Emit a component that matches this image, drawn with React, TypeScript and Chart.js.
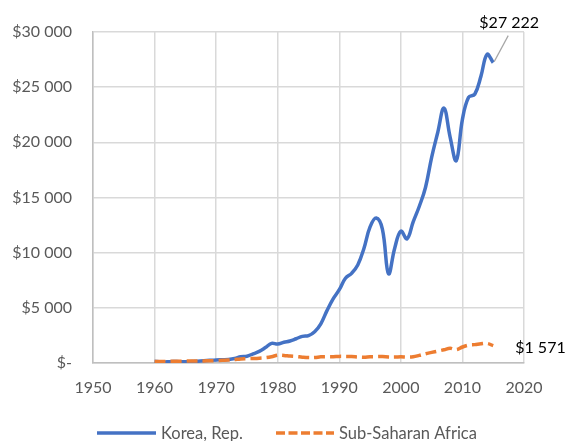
import React, { useEffect, useRef } from "react";
import { Chart, registerables } from "chart.js";

Chart.register(...registerables);

const years = [
  1960, 1961, 1962, 1963, 1964, 1965, 1966, 1967, 1968, 1969,
  1970, 1971, 1972, 1973, 1974, 1975, 1976, 1977, 1978, 1979,
  1980, 1981, 1982, 1983, 1984, 1985, 1986, 1987, 1988, 1989,
  1990, 1991, 1992, 1993, 1994, 1995, 1996, 1997, 1998, 1999,
  2000, 2001, 2002, 2003, 2004, 2005, 2006, 2007, 2008, 2009,
  2010, 2011, 2012, 2013, 2014, 2015,
];

const korea = [
  155, 93, 106, 144, 123, 108, 132, 159, 196, 240,
  279, 300, 323, 405, 563, 615, 830, 1051, 1399, 1783,
  1715, 1883, 1993, 2199, 2413, 2482, 2835, 3555, 4749, 5817,
  6642, 7677, 8126, 8884, 10385, 12333, 13137, 12131, 8085, 10409,
  11948, 11253, 12789, 14209, 15908, 18640, 20917, 23102, 20475, 18339,
  22087, 24080, 24359, 25977, 27970, 27222,
];

const ssa = [
  136, 140, 146, 155, 163, 170, 180, 186, 192, 205,
  222, 240, 262, 310, 360, 385, 410, 440, 480, 570,
  710, 690, 625, 585, 530, 495, 500, 560, 575, 575,
  600, 595, 585, 545, 515, 560, 575, 580, 545, 535,
  560, 540, 560, 690, 840, 960, 1080, 1200, 1330, 1210,
  1450, 1620, 1665, 1745, 1770, 1571,
];

const seriesNames = ["Korea, Rep.", "Sub-Saharan Africa"];
const xTicks = [1950, 1960, 1970, 1980, 1990, 2000, 2010, 2020];
const yMax = 30000;
const yStep = 5000;

const BLUE = "#4472C4";
const ORANGE = "#ED7D31";
const FONT = "Lato, 'Open Sans', sans-serif";

function fmtMoney(v: number): string {
  if (v === 0) return "$-";
  const s = Math.round(v).toString().replace(/\B(?=(\d{3})+(?!\d))/g, " ");
  return "$" + s;
}

const annotPlugin = {
  id: "annot",
  afterDraw(chart: any) {
    const ctx = chart.ctx;
    const xs = chart.scales.x;
    const ys = chart.scales.y;
    const last = years.length - 1;
    const px = xs.getPixelForValue(years[last]);
    const pyK = ys.getPixelForValue(korea[last]);
    const pyS = ys.getPixelForValue(ssa[last]);
    ctx.save();
    // leader line
    ctx.strokeStyle = "#a6a6a6";
    ctx.lineWidth = 1.2;
    ctx.beginPath();
    ctx.moveTo(px + 1, pyK - 1);
    ctx.lineTo(px + 15, pyK - 27);
    ctx.stroke();
    ctx.fillStyle = "#000000";
    ctx.font = "16px " + FONT;
    ctx.textBaseline = "middle";
    ctx.textAlign = "center";
    ctx.fillText(fmtMoney(korea[last]), px + 16, pyK - 40);
    ctx.textAlign = "left";
    ctx.fillText(fmtMoney(ssa[last]), px + 22, pyS + 2);

    // legend
    const ly = 433;
    ctx.lineWidth = 3.5;
    ctx.strokeStyle = BLUE;
    ctx.setLineDash([]);
    ctx.beginPath();
    ctx.moveTo(97, ly);
    ctx.lineTo(156, ly);
    ctx.stroke();
    ctx.strokeStyle = ORANGE;
    ctx.setLineDash([9, 3.5]);
    ctx.beginPath();
    ctx.moveTo(276, ly);
    ctx.lineTo(334, ly);
    ctx.stroke();
    ctx.setLineDash([]);
    ctx.fillStyle = "#595959";
    ctx.font = "16.5px " + FONT;
    ctx.textAlign = "left";
    ctx.fillText(seriesNames[0], 161, ly + 1);
    ctx.fillText(seriesNames[1], 339, ly + 1);
    ctx.restore();
  },
};

export default function App() {
  const ref = useRef<HTMLCanvasElement>(null);
  useEffect(() => {
    if (!ref.current) return;
    const chart = new Chart(ref.current, {
      type: "line",
      data: {
        datasets: [
          {
            label: seriesNames[0],
            data: years.map((y, i) => ({ x: y, y: korea[i] })),
            borderColor: BLUE,
            borderWidth: 3.5,
            pointRadius: 0,
            tension: 0.4,
            fill: false,
            order: 1,
          },
          {
            label: seriesNames[1],
            data: years.map((y, i) => ({ x: y, y: ssa[i] })),
            borderColor: ORANGE,
            borderWidth: 3.5,
            borderDash: [11, 5],
            pointRadius: 0,
            tension: 0.4,
            fill: false,
            order: 0,
          },
        ],
      },
      options: {
        animation: false,
        responsive: false,
        maintainAspectRatio: false,
        layout: { padding: { top: 32, right: 47, left: 0, bottom: 0 } },
        plugins: {
          legend: { display: false },
          tooltip: { enabled: false },
        },
        scales: {
          x: {
            type: "linear",
            min: xTicks[0],
            max: xTicks[xTicks.length - 1],
            afterBuildTicks: (s: any) => {
              s.ticks = xTicks.map((v) => ({ value: v }));
            },
            afterFit: (s: any) => {
              s.height = 78;
            },
            grid: { color: "#d9d9d9", lineWidth: 1.5, drawTicks: false },
            border: { color: "#bfbfbf", width: 1.5 },
            ticks: {
              padding: 15,
              color: "#595959",
              font: { family: FONT, size: 16 },
              maxRotation: 0,
              callback: (v: any) => String(v),
            },
          },
          y: {
            min: 0,
            max: yMax,
            afterFit: (s: any) => {
              s.width = 93;
            },
            grid: { color: "#d9d9d9", lineWidth: 1.5, drawTicks: false },
            border: { color: "#bfbfbf", width: 1.5 },
            ticks: {
              stepSize: yStep,
              padding: 21,
              color: "#595959",
              font: { family: FONT, size: 16 },
              callback: (v: any) => fmtMoney(Number(v)),
            },
          },
        },
      },
      plugins: [annotPlugin],
    });
    return () => chart.destroy();
  }, []);
  return (
    <div style={{ position: "fixed", left: 0, top: 0, width: 571, height: 441, background: "#fff" }}>
      <canvas ref={ref} width={571} height={441} style={{ display: "block" }} />
    </div>
  );
}
